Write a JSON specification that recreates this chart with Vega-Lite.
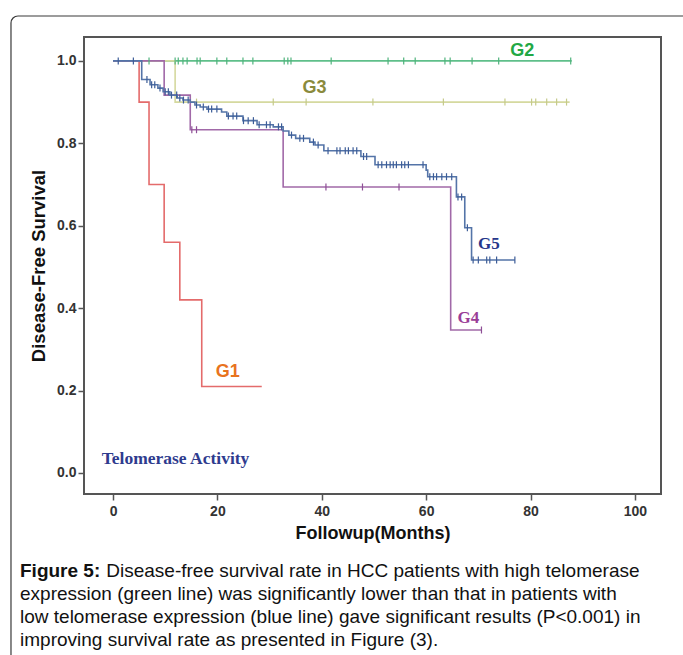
{
  "$schema": "https://vega.github.io/schema/vega-lite/v6.json",
  "width": 577,
  "height": 457,
  "autosize": {"type": "none"},
  "padding": {"left": 84, "top": 37, "right": 22, "bottom": 161},
  "background": "white",
  "config": {"view": {"stroke": "#555555", "strokeWidth": 2}, "font": "Liberation Sans"},
  "datasets": {
    "curves": [
      {"group": "G1", "month": 0, "surv": 1.0},
      {"group": "G1", "month": 5.0, "surv": 0.9},
      {"group": "G1", "month": 6.9, "surv": 0.7},
      {"group": "G1", "month": 9.8, "surv": 0.56},
      {"group": "G1", "month": 12.8, "surv": 0.42},
      {"group": "G1", "month": 17.0, "surv": 0.21},
      {"group": "G1", "month": 28.5, "surv": 0.21},
      {"group": "G2", "month": 0, "surv": 1.0},
      {"group": "G2", "month": 87.9, "surv": 1.0},
      {"group": "G3", "month": 0, "surv": 1.0},
      {"group": "G3", "month": 11.9, "surv": 0.9},
      {"group": "G3", "month": 87.5, "surv": 0.9},
      {"group": "G4", "month": 0, "surv": 1.0},
      {"group": "G4", "month": 9.8, "surv": 0.917},
      {"group": "G4", "month": 14.8, "surv": 0.833},
      {"group": "G4", "month": 32.6, "surv": 0.694},
      {"group": "G4", "month": 64.7, "surv": 0.347},
      {"group": "G4", "month": 70.6, "surv": 0.347},
      {"group": "G5", "month": 0, "surv": 1.0},
      {"group": "G5", "month": 5.5, "surv": 0.955},
      {"group": "G5", "month": 7.1, "surv": 0.942},
      {"group": "G5", "month": 8.6, "surv": 0.934},
      {"group": "G5", "month": 9.6, "surv": 0.925},
      {"group": "G5", "month": 10.9, "surv": 0.917},
      {"group": "G5", "month": 12.3, "surv": 0.91},
      {"group": "G5", "month": 13.4, "surv": 0.905},
      {"group": "G5", "month": 14.8, "surv": 0.9},
      {"group": "G5", "month": 15.7, "surv": 0.893},
      {"group": "G5", "month": 16.7, "surv": 0.888},
      {"group": "G5", "month": 18.0, "surv": 0.883},
      {"group": "G5", "month": 20.8, "surv": 0.876},
      {"group": "G5", "month": 21.8, "surv": 0.866},
      {"group": "G5", "month": 24.9, "surv": 0.855},
      {"group": "G5", "month": 27.6, "surv": 0.845},
      {"group": "G5", "month": 30.7, "surv": 0.84},
      {"group": "G5", "month": 32.6, "surv": 0.83},
      {"group": "G5", "month": 33.7, "surv": 0.82},
      {"group": "G5", "month": 35.0, "surv": 0.812},
      {"group": "G5", "month": 37.7, "surv": 0.803},
      {"group": "G5", "month": 38.7, "surv": 0.796},
      {"group": "G5", "month": 40.4, "surv": 0.782},
      {"group": "G5", "month": 47.5, "surv": 0.768},
      {"group": "G5", "month": 50.2, "surv": 0.748},
      {"group": "G5", "month": 60.0, "surv": 0.735},
      {"group": "G5", "month": 60.3, "surv": 0.719},
      {"group": "G5", "month": 65.8, "surv": 0.67},
      {"group": "G5", "month": 67.4, "surv": 0.595},
      {"group": "G5", "month": 68.7, "surv": 0.517},
      {"group": "G5", "month": 77.0, "surv": 0.517}
    ],
    "censor": [
      {"group": "G2", "month": 6.9, "surv": 1.0},
      {"group": "G2", "month": 11.9, "surv": 1.0},
      {"group": "G2", "month": 12.5, "surv": 1.0},
      {"group": "G2", "month": 13.4, "surv": 1.0},
      {"group": "G2", "month": 14.2, "surv": 1.0},
      {"group": "G2", "month": 16.1, "surv": 1.0},
      {"group": "G2", "month": 16.7, "surv": 1.0},
      {"group": "G2", "month": 19.9, "surv": 1.0},
      {"group": "G2", "month": 21.8, "surv": 1.0},
      {"group": "G2", "month": 24.9, "surv": 1.0},
      {"group": "G2", "month": 26.8, "surv": 1.0},
      {"group": "G2", "month": 32.8, "surv": 1.0},
      {"group": "G2", "month": 33.5, "surv": 1.0},
      {"group": "G2", "month": 34.1, "surv": 1.0},
      {"group": "G2", "month": 41.8, "surv": 1.0},
      {"group": "G2", "month": 52.7, "surv": 1.0},
      {"group": "G2", "month": 55.7, "surv": 1.0},
      {"group": "G2", "month": 57.9, "surv": 1.0},
      {"group": "G2", "month": 63.6, "surv": 1.0},
      {"group": "G2", "month": 64.6, "surv": 1.0},
      {"group": "G2", "month": 68.8, "surv": 1.0},
      {"group": "G2", "month": 73.9, "surv": 1.0},
      {"group": "G2", "month": 87.7, "surv": 1.0},
      {"group": "G3", "month": 16.0, "surv": 0.9},
      {"group": "G3", "month": 30.7, "surv": 0.9},
      {"group": "G3", "month": 37.0, "surv": 0.9},
      {"group": "G3", "month": 49.8, "surv": 0.9},
      {"group": "G3", "month": 63.3, "surv": 0.9},
      {"group": "G3", "month": 75.1, "surv": 0.9},
      {"group": "G3", "month": 80.2, "surv": 0.9},
      {"group": "G3", "month": 81.0, "surv": 0.9},
      {"group": "G3", "month": 83.1, "surv": 0.9},
      {"group": "G3", "month": 85.0, "surv": 0.9},
      {"group": "G3", "month": 86.9, "surv": 0.9},
      {"group": "G4", "month": 15.1, "surv": 0.833},
      {"group": "G4", "month": 16.0, "surv": 0.833},
      {"group": "G4", "month": 40.8, "surv": 0.694},
      {"group": "G4", "month": 47.8, "surv": 0.694},
      {"group": "G4", "month": 54.8, "surv": 0.694},
      {"group": "G4", "month": 70.6, "surv": 0.347},
      {"group": "G5", "month": 1.0, "surv": 1.0},
      {"group": "G5", "month": 3.9, "surv": 1.0},
      {"group": "G5", "month": 6.5, "surv": 0.955},
      {"group": "G5", "month": 7.4, "surv": 0.942},
      {"group": "G5", "month": 8.0, "surv": 0.942},
      {"group": "G5", "month": 9.0, "surv": 0.934},
      {"group": "G5", "month": 10.0, "surv": 0.925},
      {"group": "G5", "month": 10.6, "surv": 0.925},
      {"group": "G5", "month": 11.2, "surv": 0.917},
      {"group": "G5", "month": 12.2, "surv": 0.917},
      {"group": "G5", "month": 12.8, "surv": 0.91},
      {"group": "G5", "month": 13.5, "surv": 0.905},
      {"group": "G5", "month": 14.4, "surv": 0.905},
      {"group": "G5", "month": 16.0, "surv": 0.893},
      {"group": "G5", "month": 17.3, "surv": 0.888},
      {"group": "G5", "month": 18.3, "surv": 0.883},
      {"group": "G5", "month": 18.9, "surv": 0.883},
      {"group": "G5", "month": 19.9, "surv": 0.883},
      {"group": "G5", "month": 22.1, "surv": 0.866},
      {"group": "G5", "month": 23.0, "surv": 0.866},
      {"group": "G5", "month": 23.7, "surv": 0.866},
      {"group": "G5", "month": 25.0, "surv": 0.855},
      {"group": "G5", "month": 25.9, "surv": 0.855},
      {"group": "G5", "month": 26.9, "surv": 0.855},
      {"group": "G5", "month": 28.0, "surv": 0.845},
      {"group": "G5", "month": 29.4, "surv": 0.845},
      {"group": "G5", "month": 30.1, "surv": 0.845},
      {"group": "G5", "month": 31.7, "surv": 0.84},
      {"group": "G5", "month": 32.3, "surv": 0.84},
      {"group": "G5", "month": 34.2, "surv": 0.82},
      {"group": "G5", "month": 35.8, "surv": 0.812},
      {"group": "G5", "month": 36.5, "surv": 0.812},
      {"group": "G5", "month": 38.4, "surv": 0.803},
      {"group": "G5", "month": 39.3, "surv": 0.796},
      {"group": "G5", "month": 41.2, "surv": 0.782},
      {"group": "G5", "month": 42.9, "surv": 0.782},
      {"group": "G5", "month": 43.5, "surv": 0.782},
      {"group": "G5", "month": 44.5, "surv": 0.782},
      {"group": "G5", "month": 45.1, "surv": 0.782},
      {"group": "G5", "month": 46.0, "surv": 0.782},
      {"group": "G5", "month": 46.7, "surv": 0.782},
      {"group": "G5", "month": 48.0, "surv": 0.768},
      {"group": "G5", "month": 48.6, "surv": 0.768},
      {"group": "G5", "month": 50.8, "surv": 0.748},
      {"group": "G5", "month": 51.5, "surv": 0.748},
      {"group": "G5", "month": 52.4, "surv": 0.748},
      {"group": "G5", "month": 53.1, "surv": 0.748},
      {"group": "G5", "month": 53.7, "surv": 0.748},
      {"group": "G5", "month": 54.3, "surv": 0.748},
      {"group": "G5", "month": 55.3, "surv": 0.748},
      {"group": "G5", "month": 55.9, "surv": 0.748},
      {"group": "G5", "month": 56.6, "surv": 0.748},
      {"group": "G5", "month": 59.4, "surv": 0.748},
      {"group": "G5", "month": 60.7, "surv": 0.719},
      {"group": "G5", "month": 61.4, "surv": 0.719},
      {"group": "G5", "month": 62.0, "surv": 0.719},
      {"group": "G5", "month": 63.0, "surv": 0.719},
      {"group": "G5", "month": 63.9, "surv": 0.719},
      {"group": "G5", "month": 64.9, "surv": 0.719},
      {"group": "G5", "month": 66.1, "surv": 0.67},
      {"group": "G5", "month": 66.8, "surv": 0.67},
      {"group": "G5", "month": 67.9, "surv": 0.595},
      {"group": "G5", "month": 69.0, "surv": 0.517},
      {"group": "G5", "month": 70.0, "surv": 0.517},
      {"group": "G5", "month": 71.6, "surv": 0.517},
      {"group": "G5", "month": 72.2, "surv": 0.517},
      {"group": "G5", "month": 73.5, "surv": 0.517},
      {"group": "G5", "month": 77.0, "surv": 0.517}
    ],
    "labelsSans": [
      {"label": "G1", "month": 22.0, "surv": 0.244},
      {"label": "G2", "month": 78.4, "surv": 1.025},
      {"label": "G3", "month": 38.6, "surv": 0.934}
    ],
    "labelsSerif": [
      {"label": "G4", "month": 68.1, "surv": 0.377},
      {"label": "G5", "month": 72.0, "surv": 0.556}
    ],
    "legendTitle": [
      {"label": "Telomerase Activity", "month": -2.16, "surv": 0.034}
    ]
  },
  "layer": [
    {
      "data": {"name": "curves"},
      "mark": {"type": "line", "interpolate": "step-after", "strokeWidth": 1.6},
      "encoding": {
        "x": {"field": "month", "type": "quantitative",
              "scale": {"domain": [-5.56, 105.0], "nice": false, "zero": false},
              "axis": {"title": "Followup(Months)", "values": [0, 20, 40, 60, 80, 100], "format": "d",
                       "domain": false, "grid": false, "tickSize": 6, "tickWidth": 1.5, "tickColor": "#555",
                       "labelFont": "Liberation Sans", "labelFontSize": 14, "labelFontWeight": "bold", "labelColor": "#333",
                       "labelPadding": 4, "titleFont": "Liberation Sans", "titleFontSize": 18, "titleFontWeight": "bold",
                       "titleColor": "#111", "titlePadding": 6}},
        "y": {"field": "surv", "type": "quantitative",
              "scale": {"domain": [-0.051, 1.058], "nice": false, "zero": false},
              "axis": {"title": "Disease-Free Survival", "values": [0, 0.2, 0.4, 0.6, 0.8, 1.0], "format": ".1f",
                       "domain": false, "grid": false, "tickSize": 6, "tickWidth": 1.5, "tickColor": "#555",
                       "labelFont": "Liberation Sans", "labelFontSize": 14, "labelFontWeight": "bold", "labelColor": "#333",
                       "labelPadding": 2, "titleFont": "Liberation Sans", "titleFontSize": 18.5, "titleFontWeight": "bold",
                       "titleColor": "#111", "titlePadding": 8}},
        "color": {"field": "group", "type": "nominal",
                  "scale": {"domain": ["G1", "G2", "G3", "G4", "G5"], "range": ["#e46b6b", "#5fbf8a", "#d5d99f", "#a169a8", "#5474a8"]},
                  "legend": null}
      }
    },
    {
      "data": {"name": "censor"},
      "mark": {"type": "tick", "orient": "vertical", "size": 7, "thickness": 1.2, "opacity": 1},
      "encoding": {
        "x": {"field": "month", "type": "quantitative"},
        "y": {"field": "surv", "type": "quantitative"},
        "color": {"field": "group", "type": "nominal",
                  "scale": {"domain": ["G1", "G2", "G3", "G4", "G5"], "range": ["#e46b6b", "#4fb37c", "#c5ca8a", "#8e4f96", "#3d5d98"]},
                  "legend": null}
      }
    },
    {
      "data": {"name": "labelsSans"},
      "mark": {"type": "text", "font": "Liberation Sans", "fontSize": 18, "fontWeight": "bold", "align": "center", "baseline": "middle"},
      "encoding": {
        "x": {"field": "month", "type": "quantitative"},
        "y": {"field": "surv", "type": "quantitative"},
        "text": {"field": "label"},
        "color": {"field": "label", "type": "nominal",
                  "scale": {"domain": ["G1", "G2", "G3"], "range": ["#e8731e", "#22a845", "#8a8a3c"]}, "legend": null}
      }
    },
    {
      "data": {"name": "labelsSerif"},
      "mark": {"type": "text", "font": "Liberation Serif", "fontSize": 17, "fontWeight": "bold", "align": "center", "baseline": "middle"},
      "encoding": {
        "x": {"field": "month", "type": "quantitative"},
        "y": {"field": "surv", "type": "quantitative"},
        "text": {"field": "label"},
        "color": {"field": "label", "type": "nominal",
                  "scale": {"domain": ["G4", "G5"], "range": ["#9a3d97", "#26368a"]}, "legend": null}
      }
    },
    {
      "data": {"name": "legendTitle"},
      "mark": {"type": "text", "font": "Liberation Serif", "fontSize": 17.5, "fontWeight": "bold", "align": "left", "baseline": "middle", "color": "#2e3b8e"},
      "encoding": {
        "x": {"field": "month", "type": "quantitative"},
        "y": {"field": "surv", "type": "quantitative"},
        "text": {"field": "label"}
      }
    },
    {
      "data": {"values": [{"t": "Figure 5:"}]},
      "mark": {"type": "text", "font": "Liberation Sans", "fontSize": 19, "fontWeight": "bold", "align": "left", "baseline": "alphabetic", "color": "#111"},
      "encoding": {
        "x": {"datum": -17.82, "type": "quantitative"},
        "y": {"datum": -0.2524, "type": "quantitative"},
        "text": {"field": "t"}
      }
    },
    {
      "data": {"values": [{"t": "Disease-free survival rate in HCC patients with high telomerase"}]},
      "mark": {"type": "text", "font": "Liberation Sans", "fontSize": 19, "align": "left", "baseline": "alphabetic", "color": "#111"},
      "encoding": {
        "x": {"datum": -1.3, "type": "quantitative"},
        "y": {"datum": -0.2524, "type": "quantitative"},
        "text": {"field": "t"}
      }
    },
    {
      "data": {"values": [{"t": "expression (green line) was significantly lower than that in patients with\nlow telomerase expression (blue line) gave significant results (P<0.001) in\nimproving survival rate as presented in Figure (3)."}]},
      "mark": {"type": "text", "font": "Liberation Sans", "fontSize": 19, "align": "left", "baseline": "alphabetic", "color": "#111", "lineBreak": "\n", "lineHeight": 23},
      "encoding": {
        "x": {"datum": -17.82, "type": "quantitative"},
        "y": {"datum": -0.3082, "type": "quantitative"},
        "text": {"field": "t"}
      }
    },
    {
      "data": {"values": [{}]},
      "mark": {"type": "rect", "fill": "white", "fillOpacity": 0, "stroke": "#3a3a3a", "strokeWidth": 1.2, "cornerRadius": 7},
      "encoding": {
        "x": {"datum": -19.55, "type": "quantitative"},
        "x2": {"datum": 112.5},
        "y": {"datum": 1.109, "type": "quantitative"},
        "y2": {"datum": -0.502}
      }
    }
  ],
  "resolve": {"scale": {"color": "independent"}}
}
